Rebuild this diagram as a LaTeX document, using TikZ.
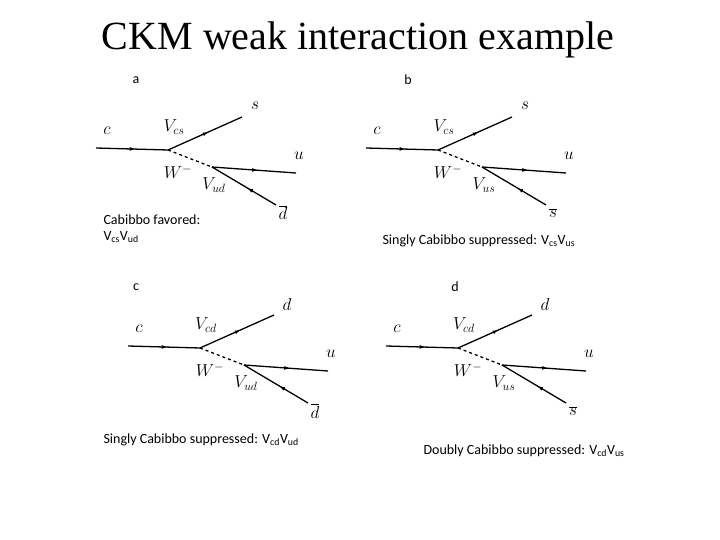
\documentclass[tikz,border=0pt]{standalone}
\usepackage{fontspec}
\setmainfont{Liberation Serif}
\newfontfamily\calfnt{Carlito}
\usetikzlibrary{decorations.markings,arrows.meta}
\begin{document}
\begin{tikzpicture}[x=1pt,y=-1pt,
  ln/.style={line width=1.3pt},
  mid/.style={ln,postaction={decorate},decoration={markings,mark=at position 0.55 with {\arrow{Latex[length=6pt,width=4pt]}}}},
  midr/.style={ln,postaction={decorate},decoration={markings,mark=at position 0.55 with {\arrowreversed{Latex[length=6pt,width=4pt]}}}},
  lab/.style={font=\fontsize{17}{17}\selectfont\itshape},
  captxt/.style={font=\calfnt\fontsize{14}{16}\selectfont, anchor=west}]
\useasboundingbox (0,0) rectangle (720,540);
\node (title) at (358,40) {\fontsize{40}{40}\selectfont CKM weak interaction example};
\newcommand{\feyntwo}[6]{%
\begin{scope}[shift={#1}]
\coordinate (#2c) at (96,148); \coordinate (#2v) at (168,150);
\coordinate (#2s) at (242,117); \coordinate (#2w) at (212,167);
\coordinate (#2u) at (296,173); \coordinate (#2d) at (276,205);
\draw[mid] (#2c) -- (#2v);
\draw[mid] (#2v) -- (#2s);
\draw[ln,dashed] (#2v) -- (#2w);
\draw[mid] (#2w) -- (#2u);
\draw[midr] (#2w) -- (#2d);
\node[lab] (#2lc) at (107,131) {$c$};
\node[lab] (#2ls) at (255,106) {$#3$};
\node[lab] (#2lv1) at (174,127) {$V_{#4}$};
\node[lab] (#2lw) at (178,172) {$W^{-}$};
\node[lab] (#2lv2) at (214,185) {$V_{#5}$};
\node[lab] (#2lu) at (299,156) {$u$};
\node[lab] (#2ld) at (283,213) {$\overline{#6}$};
\end{scope}}
\feyntwo{(0,0)}{A}{s}{cs}{ud}{d}
\feyntwo{(270,0)}{B}{s}{cs}{us}{s}
\feyntwo{(32,198)}{C}{d}{cd}{ud}{d}
\feyntwo{(290,198)}{D}{d}{cd}{us}{s}
\node[captxt,anchor=center] (la) at (136,80) {a};
\node[captxt,anchor=center] (lb) at (408,80) {b};
\node[captxt,anchor=center] (lc) at (136,287) {c};
\node[captxt,anchor=center] (ld) at (455,287) {d};
\node[captxt,align=left] (ta) at (100,229) {Cabibbo favored:\\V\textsubscript{cs}V\textsubscript{ud}};
\node[captxt] (tb) at (379,241) {Singly Cabibbo suppressed: V\textsubscript{cs}V\textsubscript{us}};
\node[captxt] (tc) at (100,440) {Singly Cabibbo suppressed: V\textsubscript{cd}V\textsubscript{ud}};
\node[captxt] (td) at (420,451) {Doubly Cabibbo suppressed: V\textsubscript{cd}V\textsubscript{us}};
\end{tikzpicture}
\end{document}
